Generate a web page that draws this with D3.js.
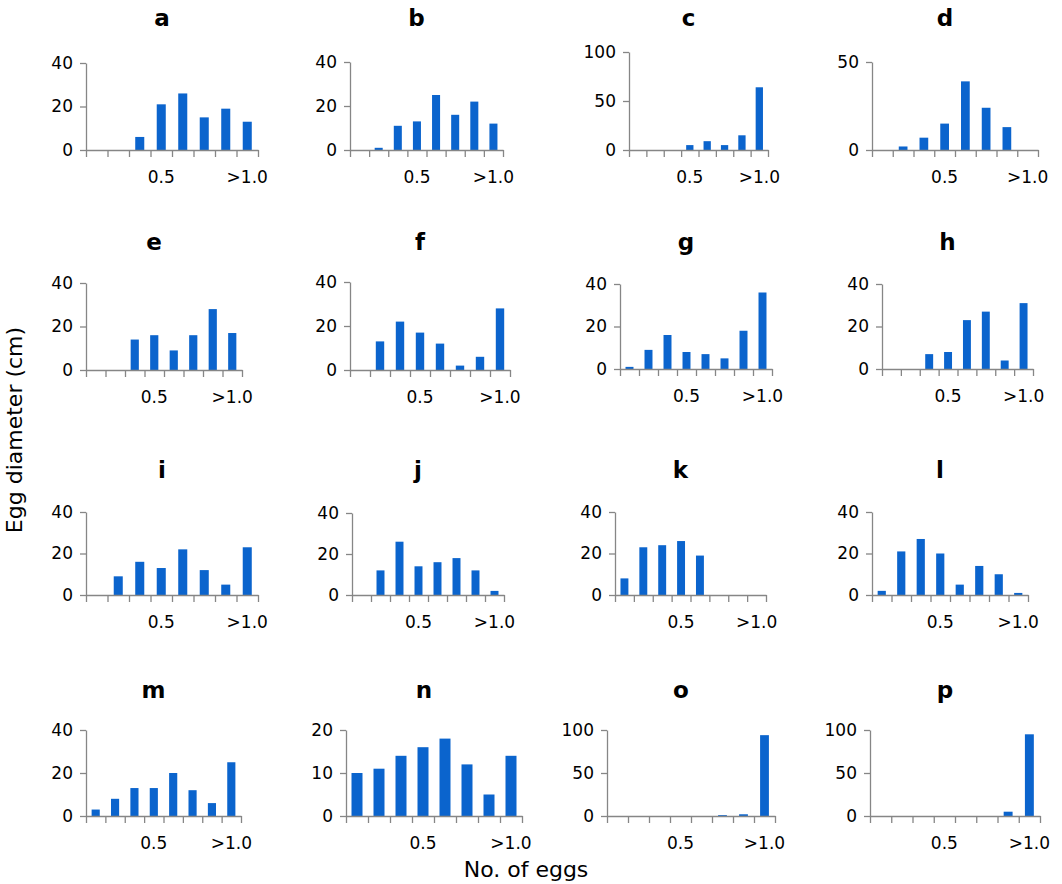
<!DOCTYPE html>
<html>
<head>
<meta charset="utf-8">
<script src="https://cdn.jsdelivr.net/npm/d3@7"></script>
<style>
  body { margin: 0; background: #fff; }
  text { font-family: "DejaVu Sans", sans-serif; fill: #000; }
  .axis path, .axis line { stroke: #868686; stroke-width: 1.3; }
  .axis text { font-size: 17px; }
</style>
</head>
<body>
<script>
// panel letters
const panelNames = ["a", "b", "c", "d", "e", "f", "g", "h", "i", "j", "k", "l", "m", "n", "o", "p"];

// 8 size classes on the x axis, only two of them carry a label
const bins = [1, 2, 3, 4, 5, 6, 7, 8];
const binLabels = ["", "", "", "0.5", "", "", "", ">1.0"];

// counts per panel
const countsA = [0, 0, 6, 21, 26, 15, 19, 13];
const countsB = [0, 1, 11, 13, 25, 16, 22, 12];
const countsC = [0, 0, 0, 5, 9, 5, 15, 64];
const countsD = [0, 2, 7, 15, 39, 24, 13, 0];
const countsE = [0, 0, 14, 16, 9, 16, 28, 17];
const countsF = [0, 13, 22, 17, 12, 2, 6, 28];
const countsG = [1, 9, 16, 8, 7, 5, 18, 36];
const countsH = [0, 0, 7, 8, 23, 27, 4, 31];
const countsI = [0, 9, 16, 13, 22, 12, 5, 23];
const countsJ = [0, 12, 26, 14, 16, 18, 12, 2];
const countsK = [8, 23, 24, 26, 19, 0, 0, 0];
const countsL = [2, 21, 27, 20, 5, 14, 10, 1];
const countsM = [3, 8, 13, 13, 20, 12, 6, 25];
const countsN = [10, 11, 14, 16, 18, 12, 5, 14];
const countsO = [0, 0, 0, 0, 0, 1, 2, 94];
const countsP = [0, 0, 0, 0, 0, 0, 5, 95];
const allCounts = [countsA, countsB, countsC, countsD, countsE, countsF, countsG, countsH,
                   countsI, countsJ, countsK, countsL, countsM, countsN, countsO, countsP];

// y axis max and tick step for each panel
const yMaxes = [40, 40, 100, 50, 40, 40, 40, 40, 40, 40, 40, 40, 40, 20, 100, 100];
const ySteps = [20, 20, 50, 50, 20, 20, 20, 20, 20, 20, 20, 20, 20, 10, 50, 50];

// layout: [axis left, axis right, top of y axis, baseline]
const boxes = [
  [86, 258, 63, 150], [350, 503, 62, 150], [629, 768, 52, 150], [872, 1038, 62, 150],
  [86, 242, 283, 370], [350, 510, 282, 370], [620, 772, 284, 369], [882, 1033, 284, 369],
  [86, 258, 512, 595], [352, 504, 513, 595], [615, 766, 512, 595], [872, 1028, 512, 595],
  [86, 241, 730, 816], [346, 522, 730, 816], [607, 775, 730, 816], [870, 1040, 730, 816]
];
const titleY = [26, 250, 478, 698];

const width = 1062, height = 884;
const barColor = "#0b64cd";

const svg = d3.select("body").append("svg")
  .attr("width", width)
  .attr("height", height);

panelNames.forEach((name, i) => {
  const [x0, x1, yTop, yBase] = boxes[i];
  const data = bins.map((b, j) => ({ bin: b, value: allCounts[i][j] }));
  const pad = name === "n" ? 0.5 : 0.58;

  const x = d3.scaleBand().domain(bins).range([x0, x1])
    .paddingInner(pad).paddingOuter(pad / 2);
  const y = d3.scaleLinear().domain([0, yMaxes[i]]).range([yBase, yTop]);
  const edges = d3.scaleLinear().domain([0, bins.length]).range([x0, x1]);

  const g = svg.append("g");

  g.selectAll("rect")
    .data(data.filter(d => d.value > 0))
    .enter().append("rect")
    .attr("x", d => x(d.bin))
    .attr("y", d => y(d.value))
    .attr("width", x.bandwidth())
    .attr("height", d => yBase - y(d.value))
    .attr("fill", barColor);

  // y axis
  g.append("g")
    .attr("class", "axis")
    .attr("transform", `translate(${x0},0)`)
    .call(d3.axisLeft(y)
      .tickValues(d3.range(0, yMaxes[i] + 1, ySteps[i]))
      .tickSize(6).tickPadding(7).tickSizeOuter(0));

  // x axis: tick marks sit between the classes
  g.append("g")
    .attr("class", "axis")
    .attr("transform", `translate(0,${yBase})`)
    .call(d3.axisBottom(edges)
      .tickValues(d3.range(bins.length + 1))
      .tickSize(7).tickSizeOuter(0)
      .tickFormat(""));

  // x labels under the class centres
  const lab = g.append("g")
    .attr("class", "axis")
    .attr("transform", `translate(0,${yBase})`)
    .call(d3.axisBottom(x)
      .tickSize(0).tickPadding(21)
      .tickFormat((d, j) => binLabels[j]));
  lab.select(".domain").remove();

  g.append("text")
    .attr("x", (x0 - 20 + x1) / 2)
    .attr("y", titleY[Math.floor(i / 4)])
    .attr("text-anchor", "middle")
    .style("font-size", "23px")
    .style("font-weight", "bold")
    .text(name);
});

svg.append("text")
  .attr("transform", "translate(22,430) rotate(-90)")
  .attr("text-anchor", "middle")
  .style("font-size", "22px")
  .text("Egg diameter (cm)");

svg.append("text")
  .attr("x", 526)
  .attr("y", 877)
  .attr("text-anchor", "middle")
  .style("font-size", "22px")
  .text("No. of eggs");
</script>
</body>
</html>
